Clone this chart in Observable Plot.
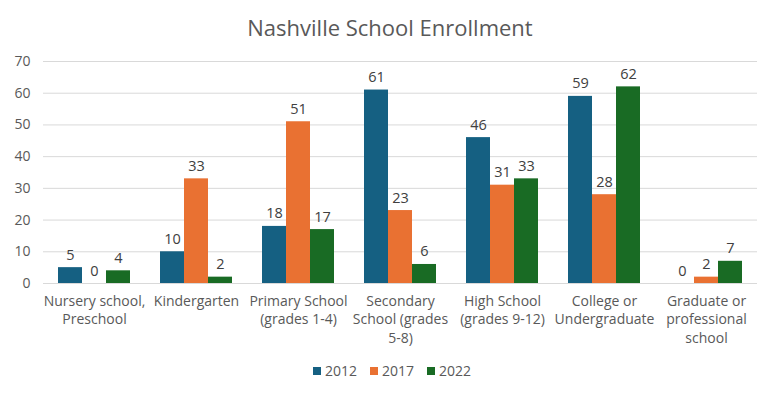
<!DOCTYPE html>
<html>
<head>
<meta charset="utf-8">
<script src="https://cdn.jsdelivr.net/npm/d3@7"></script>
<script src="https://cdn.jsdelivr.net/npm/@observablehq/plot@0.6"></script>
<style>
  html, body { margin: 0; padding: 0; background: #fff; }
  body { width: 780px; height: 396px; overflow: hidden; font-family: "Open Sans", sans-serif; color: #595959; }
  #title { height: 50px; line-height: 54px; text-align: center; font-size: 22px; color: #595959; }
  #legend { display: flex; justify-content: center; align-items: center; gap: 13px; font-size: 14px; margin-top: 11px; padding-left: 4px; }
  #legend .item { display: flex; align-items: center; gap: 4px; }
  #legend .sw { width: 8px; height: 8px; display: inline-block; }
</style>
</head>
<body>
<div id="title">Nashville School Enrollment</div>
<div id="chart"></div>
<div id="legend"></div>
<script>
const categories = [
  "Nursery school,\nPreschool",
  "Kindergarten",
  "Primary School\n(grades 1-4)",
  "Secondary\nSchool (grades\n5-8)",
  "High School\n(grades 9-12)",
  "College or\nUndergraduate",
  "Graduate or\nprofessional\nschool"
];
const years = ["2012", "2017", "2022"];
const values2012 = [5, 10, 18, 61, 46, 59, 0];
const values2017 = [0, 33, 51, 23, 31, 28, 2];
const values2022 = [4, 2, 17, 6, 33, 62, 7];
const colors = ["#156082", "#E97132", "#196B24"];
const yTicks = [0, 10, 20, 30, 40, 50, 60, 70];

const series = [values2012, values2017, values2022];
const data = [];
categories.forEach((c, i) => {
  years.forEach((y, j) => data.push({category: c, year: y, value: series[j][i]}));
});

const chart = Plot.plot({
  width: 780,
  height: 300,
  marginTop: 11,
  marginLeft: 40,
  marginRight: 20,
  marginBottom: 67,
  style: {fontFamily: "Open Sans, sans-serif", color: "#595959", fontSize: "14px"},
  fx: {domain: categories, padding: 0, label: null},
  x: {domain: years, paddingInner: 0, paddingOuter: 0.56, axis: null},
  y: {domain: [0, 70], ticks: yTicks, label: null},
  color: {domain: years, range: colors},
  marks: [
    Plot.gridY(yTicks, {stroke: "#d9d9d9", strokeOpacity: 1}),
    Plot.axisY(yTicks, {tickSize: 0, tickPadding: 13, fontSize: 14, label: null}),
    Plot.axisFx({tickSize: 0, tickPadding: 9, fontSize: 14, lineHeight: 1.32, label: null, anchor: "bottom"}),
    Plot.barY(data, {fx: "category", x: "year", y: "value", fill: "year"}),
    Plot.text(data, {fx: "category", x: "year", y: "value", text: d => String(d.value), lineAnchor: "bottom", dy: -8, fill: "#404040", fontSize: 14.5})
  ]
});
document.getElementById("chart").appendChild(chart);

const legend = document.getElementById("legend");
years.forEach((y, j) => {
  const item = document.createElement("span");
  item.className = "item";
  item.innerHTML = `<span class="sw" style="background:${colors[j]}"></span><span>${y}</span>`;
  legend.appendChild(item);
});
</script>
</body>
</html>
